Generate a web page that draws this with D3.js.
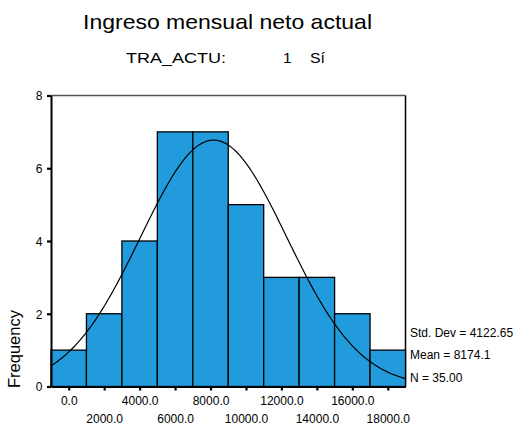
<!DOCTYPE html>
<html>
<head>
<meta charset="utf-8">
<script src="https://cdn.jsdelivr.net/npm/d3@7"></script>
<style>
  html, body { margin: 0; padding: 0; background: #fff; }
  svg { display: block; font-family: "Liberation Sans", Arial, sans-serif; }
</style>
</head>
<body>
<script>
// ---- data ----
const binCenters = [0, 2000, 4000, 6000, 8000, 10000, 12000, 14000, 16000, 18000];
const counts     = [1, 2, 4, 7, 7, 5, 3, 3, 2, 1];
const binWidth   = 2000;
const xTickValues = [0, 2000, 4000, 6000, 8000, 10000, 12000, 14000, 16000, 18000];
const yTickValues = [0, 2, 4, 6, 8];
const statMean = 8174.1;
const statSD   = 4122.65;
const statN    = 35;
const titleText    = "Ingreso mensual neto actual";
const subtitleVar  = "TRA_ACTU:";
const subtitleCode = "1";
const subtitleLab  = "Sí";
const statLabels = ["Std. Dev = 4122.65", "Mean = 8174.1", "N = 35.00"];

// ---- layout ----
const W = 519, H = 426;
const svg = d3.select("body").append("svg").attr("width", W).attr("height", H);

const x = d3.scaleLinear().domain([-1000, 19000]).range([51, 405.5]);
const y = d3.scaleLinear().domain([0, 8]).range([386.5, 95.5]);

// titles
svg.append("text").attr("x", 83).attr("y", 29)
  .attr("font-size", 21).attr("textLength", 289).attr("lengthAdjust", "spacingAndGlyphs")
  .attr("fill", "#000").text(titleText);
svg.append("text").attr("x", 126).attr("y", 63)
  .attr("font-size", 15.5).attr("textLength", 100).attr("lengthAdjust", "spacingAndGlyphs")
  .text(subtitleVar);
svg.append("text").attr("x", 283).attr("y", 63).attr("font-size", 15.5).text(subtitleCode);
svg.append("text").attr("x", 310).attr("y", 63)
  .attr("font-size", 15.5).attr("textLength", 15).attr("lengthAdjust", "spacingAndGlyphs")
  .text(subtitleLab);

// frame top/right
svg.append("line").attr("x1", 51).attr("x2", 405.5).attr("y1", 95.5).attr("y2", 95.5)
  .attr("stroke", "#555").attr("stroke-width", 1.5);
svg.append("line").attr("x1", 405.5).attr("x2", 405.5).attr("y1", 95.5).attr("y2", 386.5)
  .attr("stroke", "#000").attr("stroke-width", 1.5);

// bars
const bins = binCenters.map((c, i) => ({ c, n: counts[i] }));
svg.append("g").selectAll("rect").data(bins).join("rect")
  .attr("x", d => x(d.c - binWidth / 2))
  .attr("width", d => x(d.c + binWidth / 2) - x(d.c - binWidth / 2))
  .attr("y", d => y(d.n))
  .attr("height", d => y(0) - y(d.n))
  .attr("fill", "#229bdd")
  .attr("stroke", "#000").attr("stroke-width", 1.3);

// normal curve (from the stated mean / SD / N)
const scaleK = statN * binWidth / (statSD * Math.sqrt(2 * Math.PI));
const curveX = d3.range(-1000, 19000.1, 100);
const line = d3.line().x(v => x(v)).y(v => y(scaleK * Math.exp(-0.5 * Math.pow((v - statMean) / statSD, 2))));
svg.append("path").datum(curveX).attr("d", line)
  .attr("fill", "none").attr("stroke", "#000").attr("stroke-width", 1.2);

// axes
const gx = svg.append("g").attr("transform", "translate(0,386.5)")
  .call(d3.axisBottom(x).tickValues(xTickValues).tickSize(4).tickSizeOuter(0)
    .tickFormat(d => d.toFixed(1)));
gx.attr("font-family", null);
gx.select(".domain").attr("stroke", "#000").attr("stroke-width", 2);
gx.selectAll(".tick line").attr("stroke", "#000").attr("stroke-width", 2.2);
gx.selectAll(".tick text")
  .attr("font-size", 12).attr("fill", "#000")
  .attr("dy", 0)
  .attr("y", (d, i) => i % 2 === 0 ? 18.5 : 36.5);

const gy = svg.append("g").attr("transform", "translate(51,0)")
  .call(d3.axisLeft(y).tickValues(yTickValues).tickSize(4).tickSizeOuter(0)
    .tickFormat(d3.format("d")));
gy.attr("font-family", null);
gy.select(".domain").attr("stroke", "#000").attr("stroke-width", 2);
gy.selectAll(".tick line").attr("stroke", "#000").attr("stroke-width", 2.2);
gy.selectAll(".tick text").attr("font-size", 12).attr("fill", "#000").attr("x", -8.5).attr("dy", "0.36em");

// y axis title
svg.append("text").attr("transform", "translate(19.5,349) rotate(-90)")
  .attr("text-anchor", "middle").attr("font-size", 16.5).text("Frequency");

// stats
const statY = [336.5, 359, 381.5];
svg.append("g").selectAll("text").data(statLabels).join("text")
  .attr("x", 410).attr("y", (d, i) => statY[i])
  .attr("font-size", 12).text(d => d);
</script>
</body>
</html>
